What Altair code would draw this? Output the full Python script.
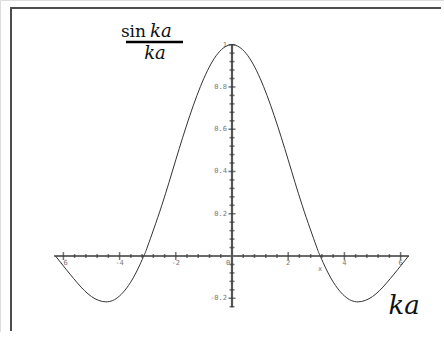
import altair as alt
import pandas as pd

# Curve samples of sin(ka)/ka between -2*pi and 2*pi
ka = [-6.28, -6.0, -5.5, -5.0, -4.49, -4.0, -3.5, -3.14, -3.0, -2.5, -2.0, -1.5, -1.0, -0.5, 0.0,
      0.5, 1.0, 1.5, 2.0, 2.5, 3.0, 3.14, 3.5, 4.0, 4.49, 5.0, 5.5, 6.0, 6.28]
sinc = [0.0, -0.047, -0.128, -0.192, -0.217, -0.189, -0.100, 0.0, 0.047, 0.239, 0.455, 0.665, 0.841, 0.959, 1.0,
        0.959, 0.841, 0.665, 0.455, 0.239, 0.047, 0.0, -0.100, -0.189, -0.217, -0.192, -0.128, -0.047, 0.0]

# Axis ticks and labels
x_major = [-6, -4, -2, 2, 4, 6]
x_major_labels = ["-6", "-4", "-2", "2", "4", "6"]
x_minor = [-5.6, -5.2, -4.8, -4.4, -3.6, -3.2, -2.8, -2.4, -1.6, -1.2, -0.8, -0.4,
           0.4, 0.8, 1.2, 1.6, 2.4, 2.8, 3.2, 3.6, 4.4, 4.8, 5.2, 5.6]
y_major = [-0.2, 0.2, 0.4, 0.6, 0.8, 1.0]
y_major_labels = ["-0.2", "0.2", "0.4", "0.6", "0.8", "1"]
y_minor = [-0.24, -0.16, -0.12, -0.08, -0.04, 0.04, 0.08, 0.12, 0.16, 0.24, 0.28, 0.32, 0.36,
           0.44, 0.48, 0.52, 0.56, 0.64, 0.68, 0.72, 0.76, 0.84, 0.88, 0.92, 0.96]
x_axis_ends = [-6.33, 6.3]
y_axis_ends = [-0.243, 1.0]

W, H = 444, 332
xs = alt.Scale(domain=[-232 / 28.1, (W - 232) / 28.1], nice=False, zero=False)
ys = alt.Scale(domain=[-(H - 256) / 211.3, 256 / 211.3], nice=False, zero=False)

curve_df = pd.DataFrame({"ka": ka, "f": sinc})
X = lambda f: alt.X(f, type="quantitative", scale=xs, axis=None)
Y = lambda f: alt.Y(f, type="quantitative", scale=ys, axis=None)

axis_gray = "#3a3a3a"
label_gray = "#777777"
mono = "DejaVu Sans Mono"
serif = "DejaVu Serif"

# Page frame along the left and top edges
frame_left = alt.Chart(pd.DataFrame({"v": [0]})).mark_rule(color="#4d4d4d", strokeWidth=2).encode(
    x=alt.value(11), y=alt.value(7), y2=alt.value(H - 1))
frame_top = alt.Chart(pd.DataFrame({"v": [0]})).mark_rule(color="#4d4d4d", strokeWidth=2).encode(
    x=alt.value(10), x2=alt.value(W - 3), y=alt.value(8))

# Axis lines through the origin
x_axis = alt.Chart(pd.DataFrame({"a": [x_axis_ends[0]], "b": [x_axis_ends[1]], "y": [0.0]})).mark_rule(
    color=axis_gray, strokeWidth=1.5).encode(x=X("a"), x2="b", y=Y("y"))
y_axis = alt.Chart(pd.DataFrame({"a": [y_axis_ends[0]], "b": [y_axis_ends[1]], "x": [0.0]})).mark_rule(
    color="#555555", strokeWidth=2.2).encode(y=Y("a"), y2="b", x=X("x"))

xmaj = alt.Chart(pd.DataFrame({"x": x_major, "y": [0.0] * len(x_major), "t": x_major_labels}))
xmin = alt.Chart(pd.DataFrame({"x": x_minor, "y": [0.0] * len(x_minor)}))
ymaj = alt.Chart(pd.DataFrame({"y": y_major, "x": [0.0] * len(y_major), "t": y_major_labels}))
ymin = alt.Chart(pd.DataFrame({"y": y_minor, "x": [0.0] * len(y_minor)}))

x_major_ticks = xmaj.mark_tick(orient="vertical", size=8, thickness=1.5, color=axis_gray).encode(x=X("x"), y=Y("y"))
x_minor_ticks = xmin.mark_tick(orient="vertical", size=4, thickness=1.5, color=axis_gray).encode(x=X("x"), y=Y("y"))
y_major_ticks = ymaj.mark_tick(orient="horizontal", size=7, thickness=1.5, color=axis_gray).encode(x=X("x"), y=Y("y"))
y_minor_ticks = ymin.mark_tick(orient="horizontal", size=5, thickness=1.5, color=axis_gray).encode(x=X("x"), y=Y("y"))

x_labels = xmaj.mark_text(font=mono, fontSize=7, color=label_gray, baseline="top", dy=3).encode(
    x=X("x"), y=Y("y"), text="t:N")
y_labels = ymaj.mark_text(font=mono, fontSize=7, color=label_gray, align="right", baseline="middle", dx=-5).encode(
    x=X("x"), y=Y("y"), text="t:N")
zero_label = alt.Chart(pd.DataFrame({"x": [0.0], "y": [0.0], "t": ["0"]})).mark_text(
    font=mono, fontSize=7, color=label_gray, baseline="top", dx=-4, dy=3).encode(x=X("x"), y=Y("y"), text="t:N")
var_label = alt.Chart(pd.DataFrame({"x": [3.14], "y": [0.0], "t": ["x"]})).mark_text(
    font=mono, fontSize=7, color=label_gray, baseline="top", dy=9).encode(x=X("x"), y=Y("y"), text="t:N")

line = alt.Chart(curve_df).mark_line(color="#333333", strokeWidth=1, interpolate="natural").encode(
    x=X("ka"), y=Y("f"), order="ka:Q")

# Fraction sin ka / ka
def txt(s, x, y, size, italic=False, align="left"):
    return alt.Chart(pd.DataFrame({"t": [s]})).mark_text(
        font=serif, fontSize=size, fontStyle="italic" if italic else "normal",
        align=align, baseline="alphabetic", color="#111111").encode(
        x=alt.value(x), y=alt.value(y), text="t:N")

num_sin = txt("sin", 146, 37, 17, align="right")
num_ka = txt("ka", 150, 37, 18, italic=True)
bar = alt.Chart(pd.DataFrame({"v": [0]})).mark_rule(color="#000000", strokeWidth=2.5).encode(
    x=alt.value(126), x2=alt.value(183), y=alt.value(42))
den_ka = txt("ka", 155, 59, 18, italic=True, align="center")
axis_name = txt("ka", 404, 314, 26, italic=True, align="center")

chart = alt.layer(
    frame_left, frame_top,
    x_axis, y_axis, x_minor_ticks, x_major_ticks, y_minor_ticks, y_major_ticks,
    x_labels, y_labels, zero_label, var_label,
    line,
    num_sin, num_ka, bar, den_ka, axis_name,
).properties(
    width=W, height=H, padding=0, autosize=alt.AutoSizeParams(type="none"),
).configure_view(stroke=None).configure(background="white")

chart.save("out.html", embed_options={"renderer": "svg", "actions": False})
